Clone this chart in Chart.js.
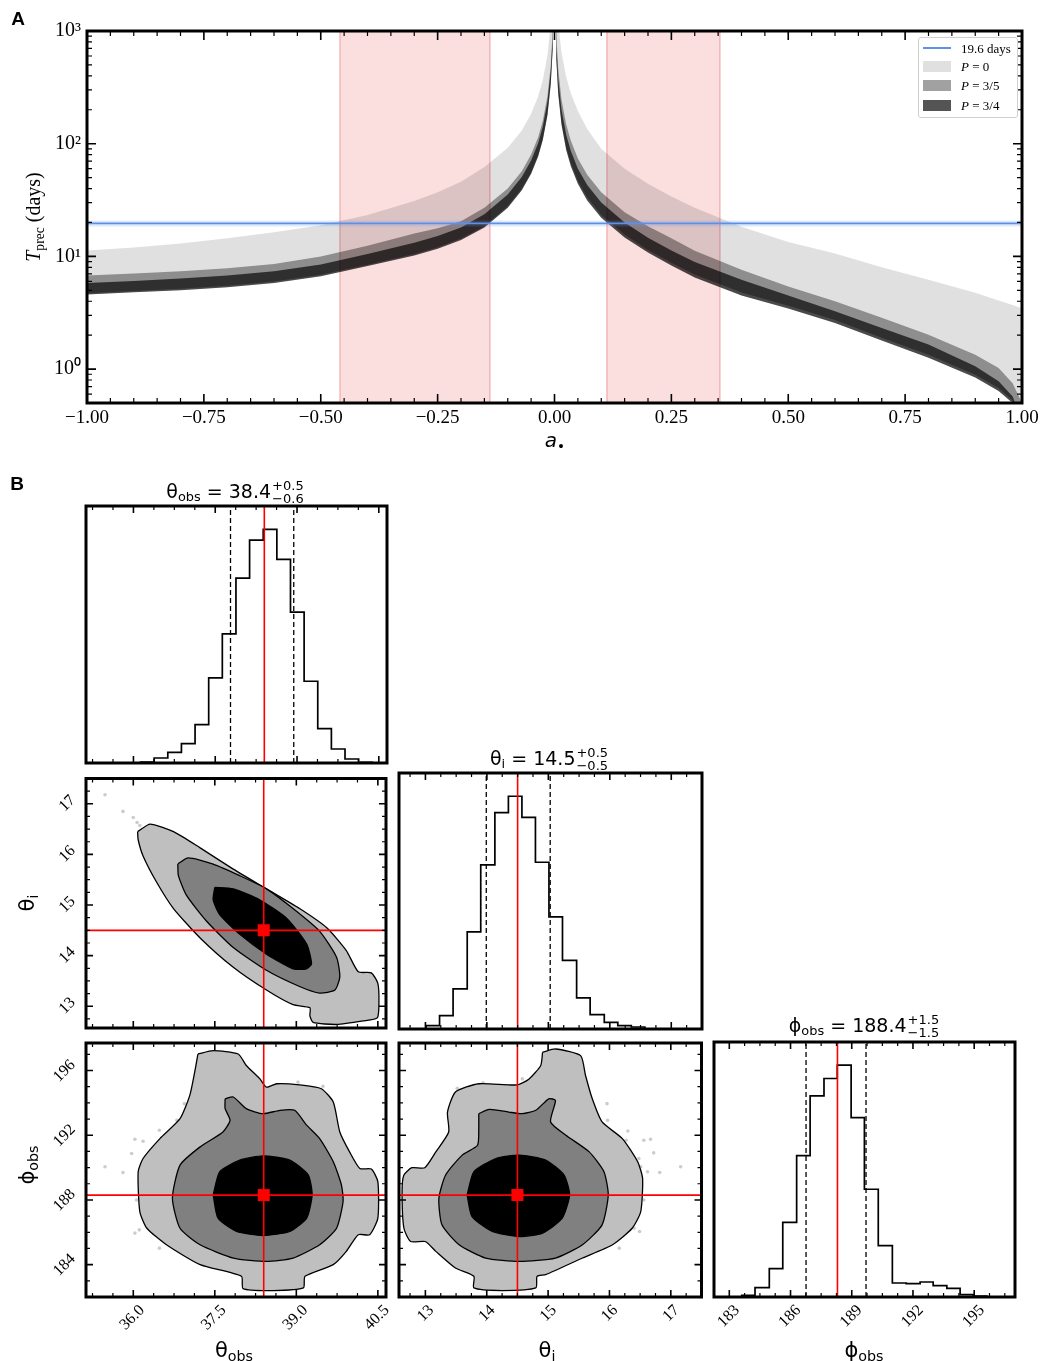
<!DOCTYPE html>
<html>
<head>
<meta charset="utf-8">
<script src="https://cdn.jsdelivr.net/npm/chart.js@4.4.0/dist/chart.umd.min.js"></script>
<style>
body { margin: 0; background: #fff; }
#wrap { position: relative; width: 1044px; height: 1361px; overflow: hidden; }
canvas { position: absolute; }
.t { position: absolute; transform: translate(-50%, -50%); white-space: nowrap; line-height: 1; color: #000; }
.r { transform: translate(-50%, -50%) rotate(-90deg); }
.sans { font-family: 'DejaVu Sans'; }
.serif { font-family: 'Liberation Serif'; }
sub { font-size: 0.68em; vertical-align: -0.3em; line-height: 0; }
.pm { display: inline-flex; flex-direction: column; vertical-align: middle; font-size: 13px; line-height: 1.0; margin-left: 1px; text-align: left; }
#legend { position: absolute; left: 918px; top: 37px; width: 98px; height: 79px; border: 1px solid #d0d0d0; border-radius: 3px; background: rgba(255,255,255,0.85); font: 13px 'Liberation Serif'; }
#legend .sw { position: absolute; left: 4px; width: 28px; }
#legend .lt { position: absolute; left: 42px; transform: translateY(-50%); white-space: nowrap; line-height: 1; }
</style>
</head>
<body>
<div id="wrap">
  <canvas id="cA" width="1044" height="460" style="left:0;top:0;width:1044px;height:460px"></canvas>
  <canvas id="cH1" width="400" height="300" style="left:0;top:470px;width:400px;height:300px"></canvas>
  <canvas id="cC21" width="400" height="270" style="left:0;top:770px;width:400px;height:270px"></canvas>
  <canvas id="cH2" width="320" height="300" style="left:390px;top:740px;width:320px;height:300px"></canvas>
  <canvas id="cC31" width="400" height="331" style="left:0;top:1030px;width:400px;height:331px"></canvas>
  <canvas id="cC32" width="320" height="331" style="left:390px;top:1030px;width:320px;height:331px"></canvas>
  <canvas id="cH3" width="344" height="331" style="left:700px;top:1030px;width:344px;height:331px"></canvas>

  <div class="t" style="left:18px;top:19px;font:bold 19px 'Liberation Sans'">A</div>
  <div class="t" style="left:17px;top:484px;font:bold 19px 'Liberation Sans'">B</div>
  <div class="t r serif" style="left:33px;top:217px;font-size:20px"><i>T</i><sub>prec</sub> (days)</div>
  <div class="t sans" style="left:555px;top:440px;font-size:20px"><i>a</i><sub>•</sub></div>
  <div id="legend"></div>

  <div class="t sans" id="title0" style="left:235px;top:492px;font-size:19px"></div>
  <div class="t sans" id="title1" style="left:549px;top:759px;font-size:19px"></div>
  <div class="t sans" id="title2" style="left:864px;top:1026px;font-size:19px"></div>
  <div class="t sans" style="left:234px;top:1350px;font-size:21px">θ<sub>obs</sub></div>
  <div class="t sans" style="left:547px;top:1350px;font-size:21px">θ<sub>i</sub></div>
  <div class="t sans" style="left:864px;top:1350px;font-size:21px">ϕ<sub>obs</sub></div>
  <div class="t r sans" style="left:27px;top:903px;font-size:21px">θ<sub>i</sub></div>
  <div class="t r sans" style="left:27px;top:1165px;font-size:21px">ϕ<sub>obs</sub></div>
</div>
<script>
// ---------- panel A data ----------
const aGrid = [-1, -0.9, -0.8, -0.7, -0.6, -0.5, -0.4, -0.3, -0.25, -0.2, -0.15, -0.1, -0.07, -0.05, -0.035, -0.025, -0.015, -0.008, -0.004,
  0, 0.004, 0.008, 0.015, 0.025, 0.035, 0.05, 0.07, 0.1, 0.15, 0.2, 0.25, 0.3, 0.4, 0.5, 0.6, 0.7, 0.8, 0.9, 0.95, 0.98, 1];
// P = 0 band (upper edge)
const tP0Upper = [11.3, 12.0, 13.0, 14.5, 16.4, 18.9, 23.3, 31, 37, 46, 62, 92, 131, 184, 263, 368, 613, 1150, 2300,
  10000, 2300, 1180, 640, 390, 280, 195, 135, 90, 60, 44, 34, 27, 18.3, 13.4, 10.6, 8.0, 6.2, 4.75, 4.05, 3.7, 3.45];
// P = 3/5 band
const tP35Upper = [6.76, 7.04, 7.38, 7.84, 8.58, 10.0, 12.4, 16.0, 17.8, 20.5, 27, 40, 57, 80, 114, 160, 267, 500, 1000,
  10000, 925, 462, 247, 148, 106, 74, 53, 37, 24.7, 18.5, 14.5, 11.2, 7.6, 5.4, 4.0, 2.85, 2.02, 1.34, 1.02, 0.75, 0.5];
const tP35Lower = [4.72, 4.94, 5.15, 5.48, 6.0, 6.86, 8.45, 10.5, 12.05, 14.4, 18.5, 27.8, 39.8, 55.6, 79.3, 111, 185, 348, 695,
  10000, 583, 292, 156, 93, 67, 46.6, 33.3, 23.3, 15.6, 11.4, 8.8, 6.9, 4.77, 3.65, 2.72, 1.9, 1.34, 0.89, 0.68, 0.53, 0.32];
// P = 3/4 band
const tP34Upper = [5.82, 6.06, 6.36, 6.76, 7.38, 8.46, 10.5, 13.2, 15.2, 18.0, 23.7, 35.5, 50.7, 71, 101, 142, 237, 444, 888,
  10000, 750, 375, 200, 120, 86, 60, 43, 30, 20, 14.6, 11.3, 8.9, 6.2, 4.5, 3.26, 2.32, 1.65, 1.06, 0.78, 0.57, 0.35];
const tP34Lower = [4.58, 4.80, 5.00, 5.32, 5.82, 6.66, 8.2, 10.2, 11.7, 14.0, 18.0, 27, 38.6, 54, 77, 108, 180, 338, 675,
  10000, 550, 275, 147, 88, 63, 44, 31.4, 22, 14.7, 10.8, 8.3, 6.5, 4.5, 3.44, 2.57, 1.79, 1.26, 0.84, 0.64, 0.5, 0.3];
// lower edge of the P = 0 band lies under the darker bands
const tP0Lower = tP34Lower;
const periodDays = 19.6;
const redSpans = [[-0.459, -0.138], [0.112, 0.354]];
const pLabels = ['0', '3/5', '3/4'];
const aTickLabels = [-1, -0.75, -0.5, -0.25, 0, 0.25, 0.5, 0.75, 1];
const tPowers = [0, 1, 2, 3];

// ---------- panel B data ----------
const paramMed = [38.4, 14.5, 188.4];
const paramPlus = [0.5, 0.5, 1.5];
const paramMinus = [0.6, 0.5, 1.5];
const truths = [38.4, 14.5, 188.3];
const rangeThetaObs = [35.13, 40.65];
const rangeThetaI = [12.57, 17.5];
const rangePhiY = [182.0, 197.7];
const rangePhiX = [182.25, 197.0];
const ticksThetaObs = [36.0, 37.5, 39.0, 40.5];
const ticksThetaI = [13, 14, 15, 16, 17];
const ticksPhiY = [184, 188, 192, 196];
const ticksPhiX = [183, 186, 189, 192, 195];

const h1Edges = [36.13, 36.38, 36.63, 36.88, 37.13, 37.38, 37.63, 37.88, 38.13, 38.38, 38.63, 38.88, 39.13, 39.38, 39.63, 39.88, 40.13, 40.38];
const h1Counts = [3, 15, 32, 58, 115, 255, 387, 554, 668, 700, 610, 452, 245, 103, 42, 12, 2];
const h1Quant = [37.78, 38.94];
const h2Edges = [13.01, 13.23, 13.45, 13.68, 13.90, 14.13, 14.35, 14.57, 14.79, 15.01, 15.23, 15.46, 15.68, 15.91, 16.13, 16.35, 16.57];
const h2Counts = [10, 40, 120, 290, 490, 646, 695, 632, 498, 335, 205, 93, 43, 20, 10, 6];
const h2Quant = [13.99, 15.03];
const h3Edges = [183.61, 184.26, 184.96, 185.62, 186.30, 186.96, 187.64, 188.29, 188.97, 189.62, 190.30, 190.99, 191.67, 192.35, 192.99, 193.66, 194.31, 194.96, 195.62];
const h3Counts = [5, 28, 85, 224, 424, 603, 655, 695, 538, 323, 154, 42, 40, 45, 34, 26, 7, 3];
const h3Quant = [186.76, 189.70];

// theta_obs vs theta_i
const c21Outer = [[36.08,16.45],[36.31,16.60],[36.74,16.45],[37.23,16.13],[37.84,15.71],[38.45,15.32],[39.06,14.93],[39.56,14.55],[39.92,14.10],[40.14,13.68],[40.38,13.66],[40.50,13.45],[40.52,13.06],[40.49,12.77],[40.23,12.71],[39.74,12.64],[39.31,12.68],[39.25,12.81],[39.25,12.97],[38.94,13.03],[38.45,13.32],[37.84,13.77],[37.23,14.35],[36.74,14.93],[36.43,15.45],[36.18,15.97],[36.09,16.29]];
const c21Mid = [[36.82,15.81],[37.01,15.93],[37.47,15.81],[37.96,15.58],[38.45,15.32],[38.94,14.93],[39.43,14.48],[39.74,13.97],[39.80,13.58],[39.71,13.32],[39.43,13.26],[39.06,13.39],[38.45,13.71],[37.84,14.16],[37.35,14.68],[36.98,15.19],[36.83,15.58]];
const c21Inner = [[37.50,15.35],[37.84,15.32],[38.33,15.10],[38.82,14.74],[39.19,14.23],[39.28,13.84],[39.19,13.74],[38.94,13.74],[38.45,14.03],[37.96,14.42],[37.59,14.81],[37.47,15.10]];
const c21Dots = [[35.48,17.18],[35.81,16.85],[36.0,16.73],[36.07,16.63],[36.12,16.57]];
// theta_obs vs phi_obs
const c31Outer = [[37.19,197.02],[37.47,197.23],[37.93,197.02],[38.08,196.31],[38.33,195.48],[38.45,194.97],[38.64,195.18],[39.06,195.11],[39.46,194.87],[39.68,194.05],[39.80,192.20],[39.98,190.97],[40.17,189.94],[40.38,189.91],[40.50,189.13],[40.50,186.87],[40.35,185.85],[40.14,185.85],[39.92,184.82],[39.68,184.0],[39.16,183.28],[39.13,182.56],[38.57,182.40],[38.02,182.52],[37.99,183.28],[37.23,184.0],[36.61,185.23],[36.25,186.25],[36.12,187.28],[36.09,189.74],[36.18,190.56],[36.49,191.79],[36.86,193.02],[37.04,194.46],[37.13,195.90]];
const c31Mid = [[37.69,194.25],[37.84,194.36],[38.08,193.64],[38.39,193.33],[38.70,193.54],[38.97,193.54],[39.19,192.62],[39.43,191.79],[39.68,190.36],[39.83,188.92],[39.86,187.90],[39.74,186.25],[39.43,185.23],[38.94,184.41],[38.45,184.20],[37.84,184.41],[37.23,185.23],[36.86,186.25],[36.72,188.10],[36.86,190.15],[37.23,191.28],[37.65,192.20],[37.78,192.92],[37.69,193.64]];
const c31Inner = [[37.47,188.31],[37.59,189.74],[37.96,190.46],[38.39,190.72],[38.88,190.46],[39.22,189.54],[39.29,188.31],[39.19,186.87],[38.88,186.05],[38.39,185.80],[37.90,186.05],[37.56,186.87]];
const c31Dots = [[35.48,190.05],[35.81,189.70],[35.97,190.87],[36.03,191.75],[36.18,191.63],[36.48,192.31],[36.80,192.92],[36.94,193.95],[36.06,188.0],[36.03,185.95],[36.11,186.15],[36.48,185.02],[39.03,195.28],[39.49,195.02]];
// theta_i vs phi_obs
const c32Outer = [[14.91,197.13],[15.12,197.33],[15.53,196.92],[15.61,195.69],[15.72,194.25],[15.88,192.82],[16.21,191.79],[16.46,190.36],[16.54,189.33],[16.51,187.28],[16.37,186.25],[16.05,185.23],[15.56,184.41],[14.96,183.38],[14.82,183.28],[14.80,182.56],[14.25,182.40],[13.79,182.56],[13.79,183.28],[13.49,183.79],[13.17,184.82],[13.00,185.43],[12.76,185.43],[12.65,186.25],[12.62,188.51],[12.65,189.54],[12.78,189.99],[12.99,189.99],[13.17,190.97],[13.38,192.20],[13.36,193.43],[13.49,194.67],[13.87,195.18],[14.50,195.11],[14.69,195.48],[14.88,196.31]];
const c32Mid = [[13.87,193.33],[14.04,193.60],[14.36,193.43],[14.58,193.33],[14.80,193.54],[15.01,194.25],[15.12,194.15],[15.04,192.82],[15.29,192.0],[15.67,190.97],[15.91,189.74],[15.98,188.31],[15.88,186.46],[15.56,185.23],[15.12,184.41],[14.53,184.20],[13.98,184.41],[13.55,185.23],[13.27,186.46],[13.22,188.10],[13.33,189.54],[13.60,190.77],[13.85,191.38],[13.87,192.41]];
const c32Inner = [[13.68,188.31],[13.79,189.74],[14.15,190.56],[14.53,190.77],[14.96,190.46],[15.26,189.54],[15.35,188.31],[15.23,186.87],[14.91,185.95],[14.53,185.74],[14.09,186.05],[13.76,186.97]];
const c32Dots = [[13.52,194.9],[13.94,195.24],[14.58,195.48],[15.96,193.95],[15.97,192.92],[16.30,192.26],[16.27,191.69],[16.56,191.69],[16.67,191.75],[16.72,190.91],[16.48,190.56],[16.51,190.05],[16.62,189.74],[16.82,189.70],[17.16,190.05],[16.56,188.0],[16.40,186.25],[16.49,186.05],[16.16,185.02]];

// ---------- shared setup ----------
Chart.defaults.animation = false;
Chart.defaults.events = [];
Chart.defaults.plugins.legend.display = false;
Chart.defaults.plugins.tooltip.enabled = false;
Chart.defaults.elements.point.radius = 0;
Chart.defaults.font.family = 'Liberation Serif';
Chart.defaults.color = '#000';

// inward ticks on the frame + thick frame
const framePlugin = {
  id: 'frame',
  afterDatasetsDraw(chart, args, o) {
    const { ctx, chartArea: ar } = chart;
    ctx.save();
    ctx.strokeStyle = '#000';
    const draw = (sc, horiz) => {
      for (const t of sc.ticks) {
        const p = sc.getPixelForValue(t.value);
        const len = t.major ? o.major : o.minor;
        ctx.lineWidth = t.major ? 1.6 : 1.2;
        ctx.beginPath();
        if (horiz) {
          ctx.moveTo(p, ar.bottom); ctx.lineTo(p, ar.bottom - len);
          ctx.moveTo(p, ar.top); ctx.lineTo(p, ar.top + len);
        } else {
          ctx.moveTo(ar.left, p); ctx.lineTo(ar.left + len, p);
          ctx.moveTo(ar.right, p); ctx.lineTo(ar.right - len, p);
        }
        ctx.stroke();
      }
    };
    if (o.x) draw(chart.scales.x, true);
    if (o.y) draw(chart.scales.y, false);
    ctx.lineWidth = 3;
    ctx.strokeRect(ar.left, ar.top, ar.right - ar.left, ar.bottom - ar.top);
    ctx.restore();
  }
};
Chart.register(framePlugin);

function minorTicks(majors, sub, min, max) {
  const step = (majors[1] - majors[0]) / sub;
  const n0 = Math.ceil((min - majors[0]) / step - 1e-9);
  const n1 = Math.floor((max - majors[0]) / step + 1e-9);
  const out = [];
  for (let n = n0; n <= n1; n++) {
    const v = majors[0] + n * step;
    out.push({ value: v, major: majors.some(m => Math.abs(m - v) < step / 10) });
  }
  return out;
}

function axis(min, max, ticks, o) {
  return {
    type: o.type || 'linear', min, max,
    grid: { display: false, drawTicks: false }, border: { display: false },
    afterBuildTicks: s => { s.ticks = ticks.map(t => ({ value: t.value, major: t.major })); },
    afterFit: s => {
      if (s.isHorizontal()) s.height = o.size; else s.width = o.size;
      s.paddingLeft = s.paddingRight = s.paddingTop = s.paddingBottom = 0;
    },
    ticks: {
      display: !!o.fmt, autoSkip: false, color: '#000',
      font: { family: 'Liberation Serif', size: o.font || 16 },
      padding: o.pad || 4, minRotation: o.rot || 0, maxRotation: o.rot || 0, labelOffset: o.off || 0,
      callback: (v, i, arr) => (o.fmt && arr[i] && arr[i].major) ? o.fmt(v) : ''
    }
  };
}

// ---------- panel A ----------
const sup = { 0: '⁰', 1: '¹', 2: '²', 3: '³' };
const aTicks = minorTicks(aTickLabels, 5, -1, 1);
const tTicks = [];
for (let d = -1; d <= 3; d++) {
  for (let m = 1; m <= 9; m++) {
    const v = m * Math.pow(10, d);
    if (v >= 0.5 - 1e-9 && v <= 1000 + 1e-9) tTicks.push({ value: v, major: m === 1 && tPowers.includes(d) });
  }
}
const bandColors = ['rgba(0,0,0,0.12)', 'rgba(0,0,0,0.37)', 'rgba(0,0,0,0.67)'];
const pts = arr => aGrid.map((a, i) => ({ x: a, y: arr[i] }));
const band = (arr, color) => ({ data: pts(arr), fill: color ? '+1' : false, backgroundColor: color || 'transparent', borderColor: 'transparent', borderWidth: 0, pointRadius: 0 });
const periodLine = [{ x: -1, y: periodDays }, { x: 1, y: periodDays }];

const spanPlugin = {
  id: 'spans',
  beforeDatasetsDraw(chart) {
    const { ctx, chartArea: ar, scales: { x } } = chart;
    ctx.save();
    for (const [a0, a1] of redSpans) {
      const p0 = x.getPixelForValue(a0), p1 = x.getPixelForValue(a1);
      ctx.fillStyle = 'rgba(235,70,70,0.18)';
      ctx.fillRect(p0, ar.top, p1 - p0, ar.bottom - ar.top);
      ctx.strokeStyle = 'rgba(220,60,70,0.3)';
      ctx.lineWidth = 1.5;
      ctx.beginPath();
      ctx.moveTo(p0, ar.top); ctx.lineTo(p0, ar.bottom);
      ctx.moveTo(p1, ar.top); ctx.lineTo(p1, ar.bottom);
      ctx.stroke();
    }
    ctx.restore();
  }
};

new Chart(document.getElementById('cA'), {
  type: 'line',
  data: {
    datasets: [
      { data: periodLine, borderColor: '#5e8fe9', borderWidth: 1.8, pointRadius: 0 },
      { data: periodLine, borderColor: 'rgba(100,149,237,0.2)', borderWidth: 6, pointRadius: 0 },
      band(tP34Upper, bandColors[2]), band(tP34Lower),
      band(tP35Upper, bandColors[1]), band(tP35Lower),
      band(tP0Upper, bandColors[0]), band(tP0Lower)
    ]
  },
  options: {
    responsive: false,
    layout: { padding: { top: 31, right: 22, left: 0, bottom: 0 } },
    scales: {
      x: axis(-1, 1, aTicks, { size: 57, font: 19, pad: 4, fmt: v => (v < 0 ? '−' : '') + Math.abs(v).toFixed(2) }),
      y: axis(0.5, 1000, tTicks, { type: 'logarithmic', size: 87, font: 20, pad: 6, fmt: v => '10' + sup[Math.round(Math.log10(v))] })
    },
    plugins: { frame: { x: true, y: true, major: 9, minor: 5 } }
  },
  plugins: [spanPlugin]
});

// legend
(function () {
  const lg = document.getElementById('legend');
  let html = '<div class="sw" style="top:9px;height:2px;background:#5e8fe9"></div><div class="lt" style="top:10px">' + periodDays + ' days</div>';
  const tops = [23, 42, 62];
  pLabels.forEach((p, i) => {
    html += '<div class="sw" style="top:' + tops[i] + 'px;height:10.5px;background:' + bandColors[i] + '"></div>' +
      '<div class="lt" style="top:' + (tops[i] + 5) + 'px"><i>P</i> = ' + p + '</div>';
  });
  lg.innerHTML = html;
})();

// ---------- panel B ----------
const names = ['θ<sub>obs</sub>', 'θ<sub>i</sub>', 'ϕ<sub>obs</sub>'];
paramMed.forEach((m, i) => {
  document.getElementById('title' + i).innerHTML = names[i] + ' = ' + m.toFixed(1) +
    '<span class="pm"><span>+' + paramPlus[i].toFixed(1) + '</span><span>−' + paramMinus[i].toFixed(1) + '</span></span>';
});

function vLine(x, y0, y1, color, dash, order) {
  return { data: [{ x, y: y0 }, { x, y: y1 }], borderColor: color, borderWidth: dash ? 1.3 : 1.6, borderDash: dash ? [5, 3] : [], pointRadius: 0, order };
}
function poly(p, color, order) {
  const d = p.map(q => ({ x: q[0], y: q[1] }));
  d.push(d[0]);
  return { data: d, fill: 'shape', backgroundColor: color, borderColor: '#000', borderWidth: 1.3, tension: 0.2, pointRadius: 0, order };
}
function stepPoints(edges, counts) {
  const out = [{ x: edges[0], y: 0 }];
  counts.forEach((c, i) => out.push({ x: edges[i], y: c }));
  out.push({ x: edges[edges.length - 1], y: 0 });
  return out;
}

function histChart(id, c) {
  const ymax = Math.max(...c.counts) * 1.1;
  return new Chart(document.getElementById(id), {
    type: 'line',
    data: {
      datasets: [
        vLine(c.truth, 0, ymax, '#ff0000', false, 0),
        vLine(c.quant[0], 0, ymax, '#000', true, 1),
        vLine(c.quant[1], 0, ymax, '#000', true, 1),
        { data: stepPoints(c.edges, c.counts), stepped: true, borderColor: '#000', borderWidth: 1.7, pointRadius: 0, order: 2 }
      ]
    },
    options: {
      responsive: false,
      layout: { padding: { top: c.top, right: c.right, left: 0, bottom: 0 } },
      scales: {
        x: axis(c.range[0], c.range[1], minorTicks(c.majors, 4, c.range[0], c.range[1]), c.xAxis),
        y: axis(0, ymax, [], { size: c.left })
      },
      plugins: { frame: { x: true, y: false, major: 7, minor: 4 } }
    }
  });
}

function contourChart(id, c) {
  const [tx, ty] = c.truth;
  return new Chart(document.getElementById(id), {
    type: 'line',
    data: {
      datasets: [
        { data: [{ x: tx, y: ty }], showLine: false, pointStyle: 'rect', pointRadius: 8.5, pointBackgroundColor: '#ff0000', pointBorderWidth: 0, order: 0 },
        vLine(tx, c.yr[0], c.yr[1], '#ff0000', false, 1),
        { data: [{ x: c.xr[0], y: ty }, { x: c.xr[1], y: ty }], borderColor: '#ff0000', borderWidth: 1.6, pointRadius: 0, order: 1 },
        poly(c.inner, '#000000', 2),
        poly(c.mid, '#808080', 3),
        poly(c.outer, '#bfbfbf', 4),
        { data: c.dots.map(q => ({ x: q[0], y: q[1] })), showLine: false, pointRadius: 1.8, pointBackgroundColor: 'rgba(0,0,0,0.2)', pointBorderWidth: 0, order: 5 }
      ]
    },
    options: {
      responsive: false,
      layout: { padding: { top: c.top, right: c.right, left: 0, bottom: 0 } },
      scales: {
        x: axis(c.xr[0], c.xr[1], minorTicks(c.xMaj, 4, c.xr[0], c.xr[1]), c.xAxis),
        y: axis(c.yr[0], c.yr[1], minorTicks(c.yMaj, 4, c.yr[0], c.yr[1]), c.yAxis)
      },
      plugins: { frame: { x: true, y: true, major: 7, minor: 4 } }
    }
  });
}

const fmt1 = v => v.toFixed(1);
const fmt0 = v => String(Math.round(v));

histChart('cH1', { edges: h1Edges, counts: h1Counts, quant: h1Quant, truth: truths[0], range: rangeThetaObs, majors: ticksThetaObs,
  top: 36, right: 13, left: 86, xAxis: { size: 7 } });
histChart('cH2', { edges: h2Edges, counts: h2Counts, quant: h2Quant, truth: truths[1], range: rangeThetaI, majors: ticksThetaI,
  top: 33, right: 8, left: 9, xAxis: { size: 11 } });
histChart('cH3', { edges: h3Edges, counts: h3Counts, quant: h3Quant, truth: truths[2], range: rangePhiX, majors: ticksPhiX,
  top: 12, right: 29, left: 14, xAxis: { size: 64, fmt: fmt0, rot: 45, off: 8, pad: 4 } });

contourChart('cC21', { outer: c21Outer, mid: c21Mid, inner: c21Inner, dots: c21Dots, truth: [truths[0], truths[1]],
  xr: rangeThetaObs, yr: rangeThetaI, xMaj: ticksThetaObs, yMaj: ticksThetaI, top: 4, right: 14,
  xAxis: { size: 12 }, yAxis: { size: 86, fmt: fmt0, rot: 45, off: -6, pad: 13 } });
contourChart('cC31', { outer: c31Outer, mid: c31Mid, inner: c31Inner, dots: c31Dots, truth: [truths[0], truths[2]],
  xr: rangeThetaObs, yr: rangePhiY, xMaj: ticksThetaObs, yMaj: ticksPhiY, top: 13, right: 14,
  xAxis: { size: 64, fmt: fmt1, rot: 45, off: 9, pad: 4 }, yAxis: { size: 86, fmt: fmt0, rot: 45, off: -8, pad: 13 } });
contourChart('cC32', { outer: c32Outer, mid: c32Mid, inner: c32Inner, dots: c32Dots, truth: [truths[1], truths[2]],
  xr: rangeThetaI, yr: rangePhiY, xMaj: ticksThetaI, yMaj: ticksPhiY, top: 13, right: 8,
  xAxis: { size: 64, fmt: fmt0, rot: 45, off: 6, pad: 4 }, yAxis: { size: 9 } });
</script>
</body>
</html>
